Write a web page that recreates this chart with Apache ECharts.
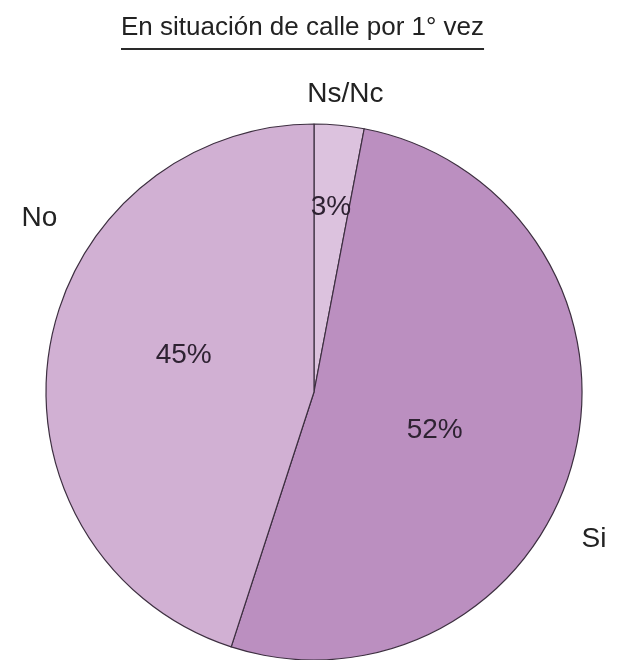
<!DOCTYPE html>
<html>
<head>
<meta charset="utf-8">
<script src="https://cdn.jsdelivr.net/npm/echarts@6/dist/echarts.min.js"></script>
<style>html,body{margin:0;padding:0;background:#fff}#c{width:617px;height:660px}</style>
</head>
<body>
<div id="c"></div>
<script>
const titleText = 'En situación de calle por 1° vez';
const categories = ['Ns/Nc', 'Si', 'No'];
const values = [3, 52, 45];

const sliceColors = ['#dcc2de', '#bb8fc0', '#d1b0d3'];
const innerShift = [[4, -48], [-12, 4], [5, -15]];
const outerShift = [[-37, -31], [3, 81], [13, -132]];
const FONT = '"Liberation Sans", Arial, sans-serif';

const chart = echarts.init(document.getElementById('c'), null, {renderer: 'canvas'});
const data = categories.map((c, i) => ({name: c, value: values[i], itemStyle: {color: sliceColors[i]}}));

chart.setOption({
  animation: false,
  backgroundColor: '#fff',
  title: {
    text: '{t|' + titleText + '}\n{u|}',
    left: 116,
    top: 5,
    textStyle: {
      fontWeight: 'normal',
      rich: {
        t: {fontFamily: FONT, fontSize: 26, fontWeight: 'normal', lineHeight: 36, color: '#222'},
        u: {width: '100%', height: 2, lineHeight: 6, backgroundColor: '#2a2a2a'}
      }
    }
  },
  series: [
    {
      type: 'pie',
      center: [314, 392],
      radius: [0, 268],
      startAngle: 90,
      clockwise: true,
      avoidLabelOverlap: false,
      data: data,
      itemStyle: {borderColor: '#3d2f40', borderWidth: 1.2},
      label: {
        show: true,
        position: 'inside',
        formatter: p => p.value + '%',
        fontFamily: FONT,
        fontSize: 28,
        color: '#2e2232'
      },
      labelLayout: p => ({dx: innerShift[p.dataIndex][0], dy: innerShift[p.dataIndex][1]}),
      emphasis: {disabled: true}
    },
    {
      type: 'pie',
      center: [314, 392],
      radius: [0, 268],
      startAngle: 90,
      clockwise: true,
      avoidLabelOverlap: false,
      silent: true,
      data: data.map(d => ({name: d.name, value: d.value})),
      itemStyle: {color: 'rgba(0,0,0,0)', borderWidth: 0},
      label: {
        show: true,
        position: 'outside',
        formatter: '{b}',
        fontFamily: FONT,
        fontSize: 28,
        color: '#222',
        distanceToLabelLine: 5
      },
      labelLine: {show: false, length: 0, length2: 0},
      labelLayout: p => ({dx: outerShift[p.dataIndex][0], dy: outerShift[p.dataIndex][1]}),
      emphasis: {disabled: true}
    }
  ]
});
</script>
</body>
</html>
